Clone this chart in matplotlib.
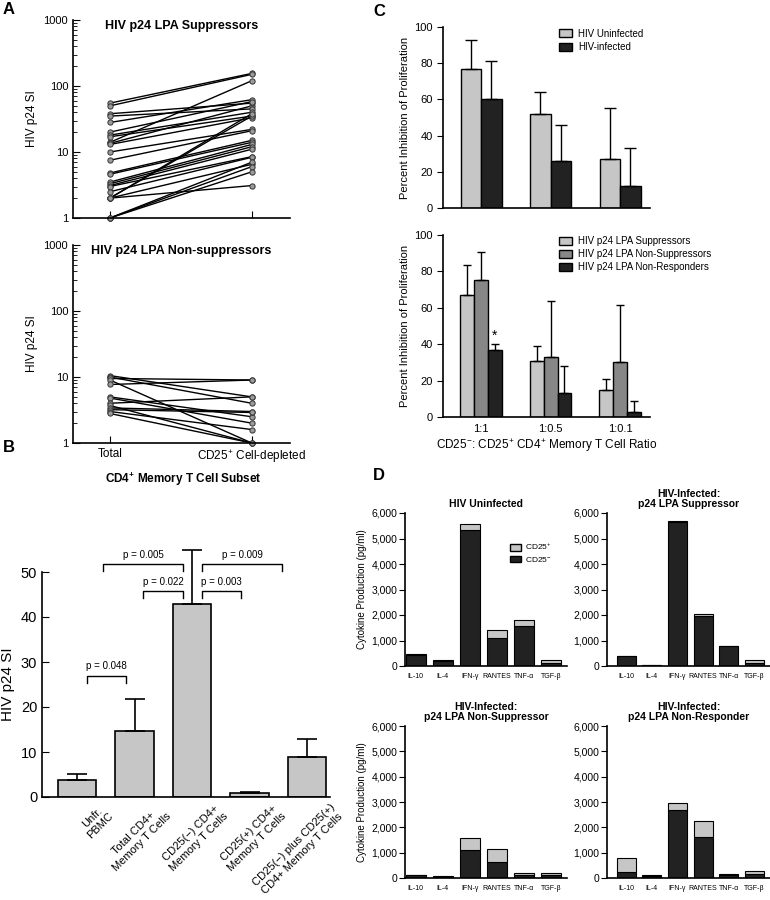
import matplotlib
matplotlib.use("Agg")
import matplotlib.pyplot as plt
import numpy as np
from matplotlib.patches import Patch

plt.rcParams['font.family'] = ['Liberation Sans', 'DejaVu Sans']
plt.rcParams['mathtext.default'] = 'regular'
plt.rcParams['axes.linewidth'] = 1.2

# ---------------- data ----------------
# Panel A
sup_total = [55, 50, 14, 13.5, 38, 35, 28, 20, 18, 17, 13, 10, 7.5, 2.0, 2.0, 4.8, 4.6, 3.5, 3.3, 3.1, 3.0, 2.5, 2.0, 2.0, 1.0, 1.0, 1.0]
sup_depleted = [155, 150, 120, 50, 55, 45, 62, 58, 40, 35, 33, 22, 21, 35, 38, 15, 14, 13, 12, 11, 8.5, 8.3, 3.1, 6.5, 7.0, 6.0, 5.0]
nonsup_total = [10.5, 10, 9.5, 9, 7.7, 5, 4.8, 4, 3.7, 3.4, 3.2, 3.0, 2.8]
nonsup_depleted = [5, 4, 9, 1, 9, 2.5, 2, 5, 1, 3, 2.9, 1.6, 1]
a_xlabels = ["Total", "CD25$^{+}$ Cell-depleted"]

# Panel B
b_labels = ["Unfr.\nPBMC", "Total CD4+\nMemory T Cells", "CD25(\u2212) CD4+\nMemory T Cells",
            "CD25(+) CD4+\nMemory T Cells", "CD25(\u2212) plus CD25(+)\nCD4+ Memory T Cells"]
b_values = [3.8, 14.7, 43.0, 1.0, 9.0]
b_err = [1.4, 7.1, 12.0, 0.2, 4.0]
# p-value brackets: label, left end, right end (in bar-index units), height
b_pvals = [("p = 0.048", 0.17, 0.85, 27.0),
           ("p = 0.005", 0.45, 1.84, 51.8),
           ("p = 0.022", 1.15, 1.84, 45.8),
           ("p = 0.003", 2.17, 2.85, 45.8),
           ("p = 0.009", 2.17, 3.57, 51.8)]

# Panel C top
c1_series = ["HIV Uninfected", "HIV-infected"]
c1_values = [[77, 52, 27], [60, 26, 12]]
c1_err = [[16, 12, 28], [21, 20, 21]]

# Panel C bottom
c2_groups = ["1:1", "1:0.5", "1:0.1"]
c2_series = ["HIV p24 LPA Suppressors", "HIV p24 LPA Non-Suppressors", "HIV p24 LPA Non-Responders"]
c2_values = [[67, 31, 15], [75.5, 33, 30], [37, 13, 3]]
c2_err = [[16.5, 8, 6], [15, 31, 31.5], [3, 15, 6]]

# Panel D
cytokines = ["IL-10", "IL-4", "IFN-\u03b3", "RANTES", "TNF-\u03b1", "TGF-\u03b2"]
d_titles = ["HIV Uninfected", "HIV-Infected:\np24 LPA Suppressor",
            "HIV-Infected:\np24 LPA Non-Suppressor", "HIV-Infected:\np24 LPA Non-Responder"]
d_neg = [[450, 200, 5350, 1100, 1550, 130],
         [400, 40, 5650, 1950, 770, 130],
         [100, 50, 1100, 650, 120, 120],
         [250, 90, 2700, 1620, 130, 170]]
d_pos = [[30, 50, 200, 300, 250, 120],
         [10, 10, 50, 100, 20, 120],
         [30, 20, 470, 500, 80, 80],
         [520, 10, 280, 630, 20, 110]]

LIGHT = "#c6c6c6"
MID = "#878787"
DARK = "#222222"

W, H = 770, 900
fig = plt.figure(figsize=(W / 100, H / 100), dpi=100)


def ax_px(x0, y0, x1, y1):
    return fig.add_axes([x0 / W, 1 - y1 / H, (x1 - x0) / W, (y1 - y0) / H])


def style(ax):
    for s in ["top", "right"]:
        ax.spines[s].set_visible(False)


# ---------------- Panel A ----------------
for (y0, y1, tot, dep, title) in [(20, 218, sup_total, sup_depleted, "HIV p24 LPA Suppressors"),
                                  (245, 443, nonsup_total, nonsup_depleted, "HIV p24 LPA Non-suppressors")]:
    ax = ax_px(73, y0, 290, y1)
    style(ax)
    for t, d in zip(tot, dep):
        ax.plot([0, 1], [t, d], color="black", lw=1.0, marker="o", ms=3.8,
                mfc="#9a9a9a", mec="#333333", mew=0.7, clip_on=False)
    ax.set_yscale("log")
    ax.set_ylim(1, 1000)
    ax.set_xlim(-0.26, 1.27)
    ax.set_yticks([1, 10, 100, 1000])
    ax.set_yticklabels(["1", "10", "100", "1000"])
    ax.tick_params(axis="y", which="major", direction="in", length=5, labelsize=8)
    ax.tick_params(axis="y", which="minor", direction="in", length=3)
    ax.set_xticks([0, 1])
    ax.tick_params(axis="x", direction="in", length=5, labelsize=8.5)
    if y0 > 100:
        ax.set_xticklabels(a_xlabels)
    else:
        ax.set_xticklabels(["", ""])
    ax.set_ylabel("HIV p24 SI", fontsize=8.5, labelpad=4)
    ax.text(0.50, 1.0, title, transform=ax.transAxes, ha="center", va="top",
            fontsize=9, fontweight="bold")
fig.text(183 / W, 1 - 479 / H, "CD4$^{+}$ Memory T Cell Subset", ha="center", va="center",
         fontsize=8.5, fontweight="bold")
fig.text(3 / W, 1 - 10 / H, "A", fontsize=12, fontweight="bold", va="center")

# ---------------- Panel B ----------------
ax = ax_px(42, 572, 330, 797)
style(ax)
xb = np.arange(len(b_values))
ax.bar(xb, b_values, width=0.67, color=LIGHT, edgecolor="black", lw=1.2)
ax.errorbar(xb, b_values, yerr=[np.zeros(len(b_err)), b_err], fmt="none", ecolor="black",
            elinewidth=1.2, capsize=7, capthick=1.2, clip_on=False)
ax.set_ylim(0, 50)
ax.set_xlim(-0.61, 4.4)
ax.set_yticks([0, 10, 20, 30, 40, 50])
ax.tick_params(axis="y", direction="in", length=5, labelsize=10.5)
ax.set_xticks([])
ax.set_ylabel("HIV p24 SI", fontsize=11, labelpad=4)
for (lab, l, r, y) in b_pvals:
    ax.plot([l, l, r, r], [y - 1.6, y, y, y - 1.6], color="black", lw=1.0, clip_on=False)
    ax.text((l + r) / 2, y + 0.9, lab, ha="center", va="bottom", fontsize=7, clip_on=False)
for i, lab in enumerate(b_labels):
    ax.text(i + 0.4, -1.2, lab, rotation=45, ha="right", va="top", rotation_mode="anchor",
            fontsize=8.0, multialignment="center")
fig.text(3 / W, 1 - 448 / H, "B", fontsize=12, fontweight="bold", va="center")

# ---------------- Panel C top ----------------
ax = ax_px(443, 27, 650, 208)
style(ax)
xc = np.arange(3)
bw = 0.295
cols = [LIGHT, DARK]
for k in range(2):
    pos = xc + (k - 0.5) * bw
    ax.bar(pos, c1_values[k], width=bw, color=cols[k], edgecolor="black", lw=1.0, label=c1_series[k])
    ax.errorbar(pos, c1_values[k], yerr=[np.zeros(3), c1_err[k]], fmt="none", ecolor="black",
                elinewidth=1.0, capsize=4, capthick=1.0, clip_on=False)
ax.set_ylim(0, 100)
ax.set_xlim(-0.547, 2.43)
ax.set_xticks([])
ax.set_yticks([0, 20, 40, 60, 80, 100])
ax.tick_params(axis="y", direction="out", length=4, labelsize=8)
ax.set_ylabel("Percent Inhibition of Proliferation", fontsize=8, labelpad=3)
ax.legend(handles=[Patch(facecolor=c, edgecolor="black", label=l) for c, l in zip(cols, c1_series)],
          loc="upper left", bbox_to_anchor=(0.52, 1.04), frameon=False, fontsize=7,
          handlelength=1.3, handleheight=0.8, handletextpad=0.6, labelspacing=0.4)
fig.text(373 / W, 1 - 12 / H, "C", fontsize=12, fontweight="bold", va="center")

# ---------------- Panel C bottom ----------------
ax = ax_px(443, 235, 650, 417)
style(ax)
bw2 = 0.2
cols3 = [LIGHT, MID, DARK]
for k in range(3):
    pos = xc + (k - 1) * bw2
    ax.bar(pos, c2_values[k], width=bw2, color=cols3[k], edgecolor="black", lw=1.0)
    ax.errorbar(pos, c2_values[k], yerr=[np.zeros(3), c2_err[k]], fmt="none", ecolor="black",
                elinewidth=1.0, capsize=3, capthick=1.0, clip_on=False)
ax.text(0 + bw2, c2_values[2][0] + c2_err[2][0] + 1, "*", ha="center", va="bottom", fontsize=10)
ax.set_ylim(0, 100)
ax.set_xlim(-0.547, 2.43)
ax.set_xticks(xc)
ax.set_xticklabels(c2_groups)
ax.tick_params(axis="x", length=0, labelsize=8, pad=5)
ax.set_yticks([0, 20, 40, 60, 80, 100])
ax.tick_params(axis="y", direction="out", length=4, labelsize=8)
ax.set_ylabel("Percent Inhibition of Proliferation", fontsize=8, labelpad=3)
ax.set_xlabel("CD25$^{-}$: CD25$^{+}$ CD4$^{+}$ Memory T Cell Ratio", fontsize=8.5, labelpad=2)
ax.legend(handles=[Patch(facecolor=c, edgecolor="black", label=l) for c, l in zip(cols3, c2_series)],
          loc="upper left", bbox_to_anchor=(0.52, 1.04), frameon=False, fontsize=7,
          handlelength=1.3, handleheight=0.8, handletextpad=0.6, labelspacing=0.3)

# ---------------- Panel D ----------------
d_boxes = [(405, 513, 567, 666), (607, 513, 770, 666), (405, 726, 567, 878), (607, 726, 770, 878)]
xd = np.arange(len(cytokines))
for i, (x0, y0, x1, y1) in enumerate(d_boxes):
    ax = ax_px(x0, y0, x1, y1)
    style(ax)
    ax.bar(xd, d_neg[i], width=0.74, color=DARK, edgecolor="black", lw=0.8)
    ax.bar(xd, d_pos[i], bottom=d_neg[i], width=0.74, color=LIGHT, edgecolor="black", lw=0.8)
    ax.set_ylim(0, 6000)
    if x0 < 500:
        ax.set_xlim(-0.4, 5.6)
    else:
        ax.set_xlim(-0.74, 5.6)
    ax.set_yticks(np.arange(0, 6001, 1000))
    ax.set_yticklabels(["0", "1,000", "2,000", "3,000", "4,000", "5,000", "6,000"])
    ax.tick_params(axis="y", direction="out", length=4, labelsize=7.5, pad=1.5)
    ax.set_xticks(xd)
    ax.set_xticklabels(cytokines)
    ax.tick_params(axis="x", length=0, labelsize=5, pad=5)
    ax.set_title(d_titles[i], fontsize=7.5, fontweight="bold", pad=4, linespacing=1.0)
    if x0 < 500:
        ax.set_ylabel("Cytokine Production (pg/ml)", fontsize=7, labelpad=3)
    if i == 0:
        ax.legend(handles=[Patch(facecolor=LIGHT, edgecolor="black", label="CD25$^{+}$"),
                           Patch(facecolor=DARK, edgecolor="black", label="CD25$^{-}$")],
                  loc="upper left", bbox_to_anchor=(0.6, 0.86), frameon=False, fontsize=6,
                  handlelength=1.3, handleheight=0.8, handletextpad=0.5, labelspacing=0.3)
fig.text(373 / W, 1 - 476 / H, "D", fontsize=12, fontweight="bold", va="center")

fig.savefig("out.png", dpi=100)
